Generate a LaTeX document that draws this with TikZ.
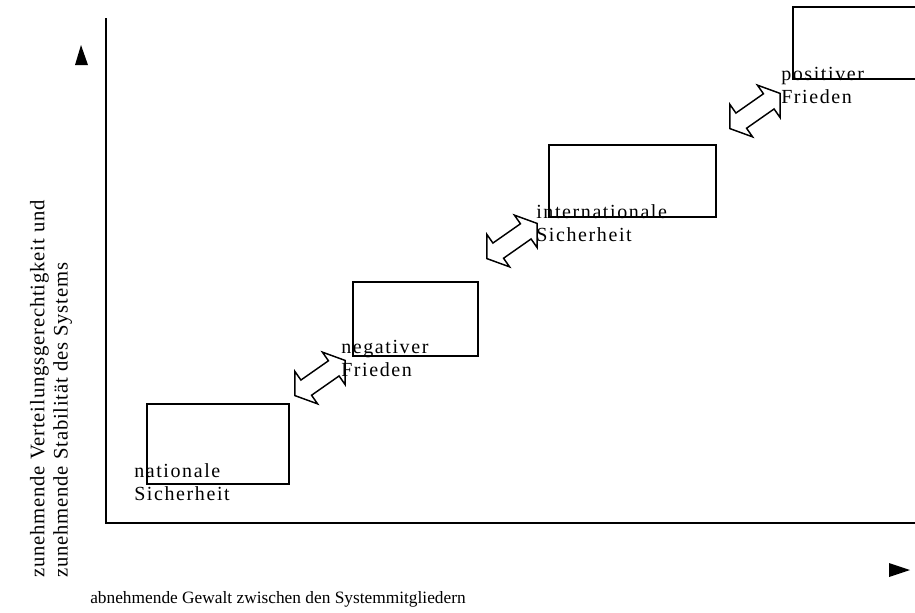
\documentclass[tikz,border=0pt]{standalone}
\usepackage{fontspec}
\setmainfont{Liberation Serif}
\newfontfamily\spacedfont[LetterSpace=8]{Liberation Serif}
\newfontfamily\sidefont[LetterSpace=4]{Liberation Serif}
\usetikzlibrary{shapes.arrows}
\tikzset{
  stage/.style = {draw, line width=1.2pt, inner sep=0pt},
  stagelabel/.style = {
    font=\spacedfont\fontsize{15pt}{17.25pt}\selectfont,
    align=left, inner sep=0pt, anchor=base west
  },
  swap/.style = {
    draw, double arrow, line width=1.1pt, inner xsep=0pt, inner ysep=6.4pt,
    minimum height=46pt,
    double arrow head extend=7.9pt, double arrow tip angle=110,
    rotate=35
  },
  axislabel/.style = {
    font=\fontsize{13pt}{17.25pt}\selectfont,
    align=left, inner sep=0pt
  },
  axis/.style = {line width=1.3pt}
}

\begin{document}
\begin{tikzpicture}[x=0.75pt,y=-0.75pt]
  \useasboundingbox (0,0) rectangle (915,612);
  % axes
  \coordinate (origin) at (106,523);
  \coordinate (ytop) at (106,18);
  \coordinate (xend) at (916,523);
  \draw[axis] (ytop) -- (origin) -- (xend);
  \fill (81,45) -- (75,65) -- (88,65) -- cycle;
  \fill (910,570) -- (889,563) -- (889,577) -- cycle;
  \node[axislabel, font=\sidefont\fontsize{15.5pt}{17.5pt}\selectfont, rotate=90, anchor=west] (ylab) at (51,578)
    {zunehmende Verteilungsgerechtigkeit und\\zunehmende Stabilit\"at des Systems};
  \node[axislabel, anchor=base west] (xlab) at (90,603)
    {abnehmende Gewalt zwischen den Systemmitgliedern};
  % stages
  \node[stage, minimum width=142*0.75pt, minimum height=80*0.75pt] (box1) at (218,444) {};
  \node[stage, minimum width=125*0.75pt, minimum height=74*0.75pt] (box2) at (415.5,319) {};
  \node[stage, minimum width=167*0.75pt, minimum height=72*0.75pt] (box3) at (632.5,181) {};
  \node[stage, minimum width=147*0.75pt, minimum height=72*0.75pt] (box4) at (866.5,43) {};
  \node[stagelabel] (nat) at (134,500) {nationale\\Sicherheit};
  \node[stagelabel] (neg) at (341,376) {negativer\\Frieden};
  \node[stagelabel] (int) at (536,241) {internationale\\Sicherheit};
  \node[stagelabel] (pos) at (781,103) {positiver\\Frieden};
  % transitions
  \node[swap] (a1) at (320,378) {};
  \node[swap] (a2) at (512,241) {};
  \node[swap] (a3) at (755,111) {};
\end{tikzpicture}
\end{document}
